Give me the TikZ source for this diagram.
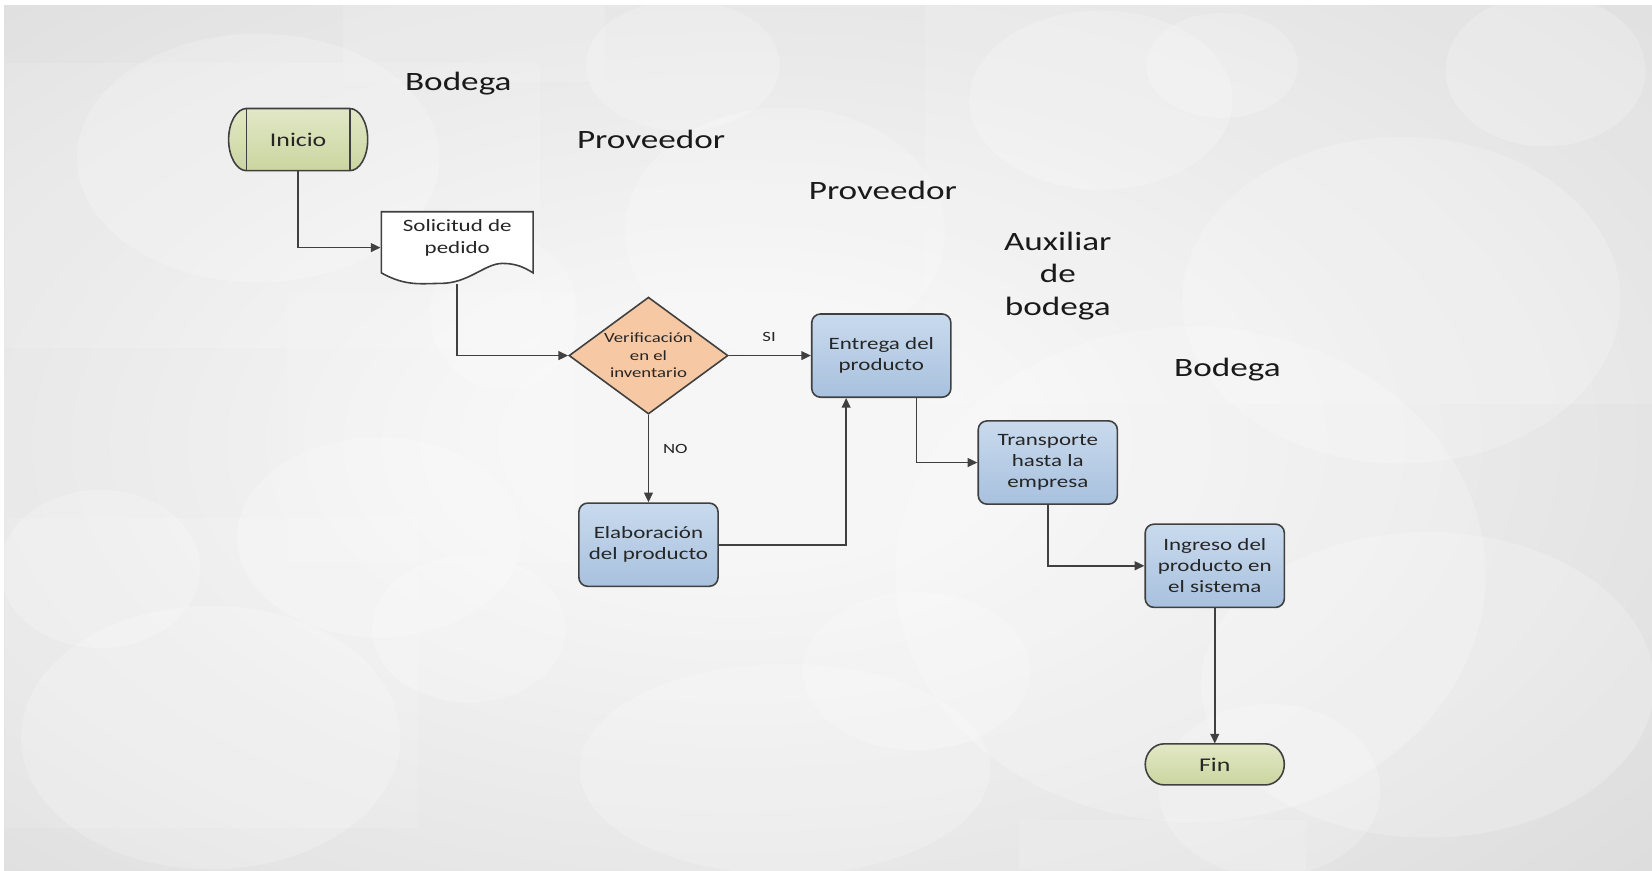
\documentclass[tikz,border=0pt]{standalone}
\usepackage{fontspec}
\setmainfont[FakeStretch=1.33]{Carlito}
\usetikzlibrary{arrows.meta,shapes.geometric,calc}

\definecolor{linec}{HTML}{404040}
\definecolor{txt}{HTML}{262626}
\definecolor{headc}{HTML}{1A1A1A}
\definecolor{greenT}{HTML}{E2E8C6}
\definecolor{greenB}{HTML}{CBD5A0}
\definecolor{blueT}{HTML}{C9DAED}
\definecolor{blueB}{HTML}{A8C1DE}
\definecolor{peach}{HTML}{F6C8A4}
\definecolor{bgA}{HTML}{F6F6F6}
\definecolor{bgB}{HTML}{D4D4D4}
\definecolor{bgC}{HTML}{C6C6C6}

\pgfdeclareradialshading{bgshade}{\pgfpoint{0bp}{0bp}}{%
  color(0bp)=(bgA); color(6bp)=(bgA); color(42bp)=(bgB); color(70bp)=(bgC)}

\tikzset{
  proc/.style={draw=linec, line width=0.9pt, rounded corners=5pt,
    top color=blueT, bottom color=blueB, minimum width=78.9pt,
    minimum height=47.2pt, inner sep=0pt, align=center, text=txt,
    font=\fontsize{9.8}{12}\selectfont},
  decision/.style={diamond, draw=linec, line width=0.9pt, fill=peach,
    minimum width=90.2pt, minimum height=66.3pt, inner sep=0pt},
  smalltext/.style={align=center, text=txt, inner sep=0pt,
    font=\fontsize{8}{9.9}\selectfont},
  termtext/.style={align=center, text=txt, inner sep=0pt,
    font=\fontsize{11}{13}\selectfont},
  boxtext/.style={align=center, text=txt, inner sep=0pt,
    font=\fontsize{9.8}{12.5}\selectfont},
  header/.style={align=center, text=headc, inner sep=0pt,
    font=\fontsize{15}{18.2}\selectfont},
  flowlabel/.style={text=txt, inner sep=0pt, font=\fontsize{8}{10}\selectfont},
  conn/.style={draw=linec, line width=0.9pt,
    -{Triangle[length=5.5pt,width=5pt]}},
  bubble/.style={fill=white, fill opacity=0.2},
  panel/.style={fill=white, fill opacity=0.13},
  termshape/.style={draw=linec, line width=0.9pt, top color=greenT, bottom color=greenB}
}

\begin{document}
\begin{tikzpicture}[x=0.5974pt, y=-0.5974pt]
\useasboundingbox (0,0) rectangle (1568,826);
\fill[white] (0,0) rectangle (1568,826);

% slide background: soft radial light with pale panels and bubbles
\begin{scope}
  \clip (4,5) rectangle (1568,826);
  \shade[shading=bgshade] (-170,-60) rectangle (1570,900);
  \fill[panel] (326,5) rectangle (574,78);
  \fill[panel] (5,60) rectangle (513,330);
  \fill[panel] (272,278) rectangle (545,533);
  \fill[panel] (5,492) rectangle (397,786);
  \fill[panel] (967,778) rectangle (1240,826);
  \fill[panel] (878,5) rectangle (1568,383);
  \fill[bubble] (245,150) ellipse [x radius=172, y radius=118];
  \fill[bubble] (648,62) ellipse [x radius=92, y radius=62];
  \fill[bubble] (1045,95) ellipse [x radius=125, y radius=85];
  \fill[bubble] (1160,62) ellipse [x radius=72, y radius=50];
  \fill[bubble] (1467,67) ellipse [x radius=95, y radius=72];
  \fill[bubble] (745,220) ellipse [x radius=152, y radius=118];
  \fill[bubble] (1330,285) ellipse [x radius=208, y radius=155];
  \fill[bubble] (478,297) ellipse [x radius=70, y radius=73];
  \fill[bubble] (1130,545) ellipse [x radius=280, y radius=235];
  \fill[bubble] (360,510) ellipse [x radius=135, y radius=95];
  \fill[bubble] (95,540) ellipse [x radius=95, y radius=75];
  \fill[bubble] (445,597) ellipse [x radius=92, y radius=70];
  \fill[bubble] (200,700) ellipse [x radius=180, y radius=125];
  \fill[bubble] (870,637) ellipse [x radius=108, y radius=75];
  \fill[bubble] (745,730) ellipse [x radius=195, y radius=100];
  \fill[bubble] (1355,650) ellipse [x radius=215, y radius=145];
  \fill[bubble] (1205,750) ellipse [x radius=105, y radius=82];
\end{scope}

% lane headings
\node[header] (h1) at (435,79) {Bodega};
\node[header] (h2) at (618,132) {Proveedor};
\node[header] (h3) at (838,181) {Proveedor};
\node[header] (h4) at (1004,262) {Auxiliar\\de\\bodega};
\node[header] (h5) at (1165,351) {Bodega};

% start terminator
\path[termshape] (234,103) -- (332,103)
  arc[start angle=-90, end angle=90, x radius=17, y radius=29.5]
  -- (234,162)
  arc[start angle=90, end angle=270, x radius=17, y radius=29.5] -- cycle;
\draw[draw=linec, line width=0.9pt] (234,103) -- (234,162) (332,103) -- (332,162);
\node[termtext, minimum width=78.9pt, minimum height=35.2pt] (ini) at (283,132.5) {Inicio};

% document shape
\path[draw=linec, line width=0.9pt, fill=white] (362,201) -- (506,201) -- (506,259)
  .. controls (498,254) and (490,250) .. (477,250)
  .. controls (460,250) and (445,269) .. (418,269)
  .. controls (400,269) and (385,272) .. (362,259) -- cycle;
\node[minimum width=86.6pt, minimum height=40.6pt, inner sep=0pt] (sol) at (434,235) {};
\node[boxtext] (soltext) at (434,225.5) {Solicitud de\\pedido};

% decision
\node[decision] (ver) at (615.5,337.5) {};
\node[smalltext] (vertext) at (615.5,337.5) {Verificación\\en el\\inventario};

% process boxes
\node[proc] (ent) at (836.5,337.5) {Entrega del\\producto};
\node[proc] (ela) at (615.5,517) {Elaboración\\del producto};
\node[proc] (tra) at (994.5,439) {Transporte\\hasta la\\empresa};
\node[proc] (ing) at (1153,537) {Ingreso del\\producto en\\el sistema};

% end terminator
\path[termshape] (1105,706) -- (1201,706)
  arc[start angle=-90, end angle=90, x radius=18, y radius=19.5]
  -- (1105,745)
  arc[start angle=90, end angle=270, x radius=18, y radius=19.5] -- cycle;
\node[termtext, minimum width=78.9pt, minimum height=23.3pt] (fin) at (1153,725.5) {Fin};

% connectors
\draw[conn] (ini.south) |- (sol.west);
\draw[conn] (sol.south) |- (ver.west);
\draw[conn] (ver.east) -- (ent.west);
\draw[conn] (ver.south) -- (ela.north);
\draw[conn] (ela.east) -| ($(ent.south west)!0.25!(ent.south east)$);
\draw[conn] ($(ent.south west)!0.75!(ent.south east)$) |- (tra.west);
\draw[conn] (tra.south) |- (ing.west);
\draw[conn] (ing.south) -- (fin.north);

% branch labels
\node[flowlabel] (si) at (730,320) {SI};
\node[flowlabel] (no) at (641,426) {NO};
\end{tikzpicture}
\end{document}
